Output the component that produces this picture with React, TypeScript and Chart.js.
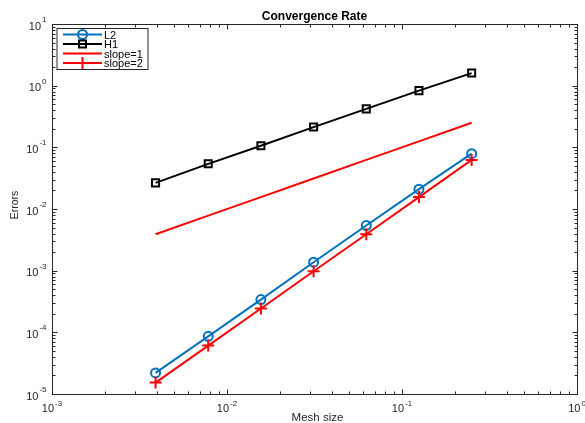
import React, { useEffect, useRef } from 'react';
import { Chart, registerables } from 'chart.js';

Chart.register(...registerables);

// ---- data ----
const meshSize = [0.00390625, 0.0078125, 0.015625, 0.03125, 0.0625, 0.125, 0.25];
const errL2 = [2.2e-5, 8.6e-5, 3.4e-4, 1.37e-3, 5.4e-3, 2.1e-2, 7.9e-2];
const errH1 = [0.0265, 0.054, 0.106, 0.213, 0.42, 0.83, 1.6];
const slope1 = [0.0039, 0.0078, 0.0156, 0.0313, 0.0625, 0.125, 0.25];
const slope2 = [1.53e-5, 6.1e-5, 2.44e-4, 9.77e-4, 3.9e-3, 1.56e-2, 6.25e-2];
const seriesNames = ['L2', 'H1', 'slope=1', 'slope=2'];

const xTickValues = [0.001, 0.01, 0.1, 1];
const xTickExp = ['-3', '-2', '-1', '0'];
const yTickValues = [1e-5, 1e-4, 1e-3, 1e-2, 1e-1, 1, 10];
const yTickExp = ['-5', '-4', '-3', '-2', '-1', '0', '1'];

const titleText = 'Convergence Rate';
const xLabel = 'Mesh size';
const yLabel = 'Errors';

const AXIS = '#262626';
const BLUE = '#0072BD';
const RED = '#FF0000';
const BLACK = '#000000';
const FONT = '"Liberation Sans", Arial, Helvetica, sans-serif';

const legendItems = [
  { name: seriesNames[0], color: BLUE, marker: 'circle' },
  { name: seriesNames[1], color: BLACK, marker: 'rect' },
  { name: seriesNames[2], color: RED, marker: 'none' },
  { name: seriesNames[3], color: RED, marker: 'cross' },
];

function drawMarker(ctx: CanvasRenderingContext2D, kind: string, x: number, y: number, color: string) {
  ctx.save();
  ctx.strokeStyle = color;
  ctx.lineWidth = 2;
  ctx.beginPath();
  if (kind === 'circle') {
    ctx.arc(x, y, 4.5, 0, Math.PI * 2);
  } else if (kind === 'rect') {
    ctx.rect(x - 3.5, y - 3.5, 7, 7);
  } else if (kind === 'cross') {
    ctx.moveTo(x - 6, y);
    ctx.lineTo(x + 6, y);
    ctx.moveTo(x, y - 6);
    ctx.lineTo(x, y + 6);
  }
  ctx.stroke();
  ctx.restore();
}

const matlabPlugin = {
  id: 'matlabAxes',
  afterDraw(chart: any) {
    const { ctx, chartArea: a, scales } = chart;
    const xs = scales.x;
    const ys = scales.y;
    const L = Math.floor(a.left) + 0.5;
    const R = Math.floor(a.right) + 0.5;
    const T = Math.floor(a.top) + 0.5;
    const B = Math.floor(a.bottom) + 0.5;
    ctx.save();
    ctx.strokeStyle = AXIS;
    ctx.lineWidth = 1;
    ctx.strokeRect(L, T, R - L, B - T);

    // ticks
    const major = 5;
    const minor = 3;
    ctx.beginPath();
    xTickValues.forEach((v, i) => {
      const px = Math.round(xs.getPixelForValue(v)) + 0.5;
      ctx.moveTo(px, B); ctx.lineTo(px, B - major);
      ctx.moveTo(px, T); ctx.lineTo(px, T + major);
      if (i < xTickValues.length - 1) {
        for (let m = 2; m <= 9; m++) {
          const p = Math.round(xs.getPixelForValue(v * m)) + 0.5;
          ctx.moveTo(p, B); ctx.lineTo(p, B - minor);
          ctx.moveTo(p, T); ctx.lineTo(p, T + minor);
        }
      }
    });
    yTickValues.forEach((v, i) => {
      const py = Math.round(ys.getPixelForValue(v)) + 0.5;
      ctx.moveTo(L, py); ctx.lineTo(L + major, py);
      ctx.moveTo(R, py); ctx.lineTo(R - major, py);
      if (i < yTickValues.length - 1) {
        for (let m = 2; m <= 9; m++) {
          const p = Math.round(ys.getPixelForValue(v * m)) + 0.5;
          ctx.moveTo(L, p); ctx.lineTo(L + minor, p);
          ctx.moveTo(R, p); ctx.lineTo(R - minor, p);
        }
      }
    });
    ctx.stroke();

    // tick labels
    ctx.fillStyle = AXIS;
    ctx.textBaseline = 'alphabetic';
    const baseFont = `11px ${FONT}`;
    const expFont = `8px ${FONT}`;
    xTickValues.forEach((v, i) => {
      const px = xs.getPixelForValue(v);
      ctx.font = baseFont;
      const wb = ctx.measureText('10').width;
      ctx.font = expFont;
      const we = ctx.measureText(xTickExp[i]).width;
      const start = px - (wb + we + 1) / 2;
      ctx.font = baseFont;
      ctx.textAlign = 'left';
      ctx.fillText('10', start, B + 17);
      ctx.font = expFont;
      ctx.fillText(xTickExp[i], start + wb + 1, B + 11);
    });
    yTickValues.forEach((v, i) => {
      const py = ys.getPixelForValue(v);
      ctx.font = expFont;
      const we = ctx.measureText(yTickExp[i]).width;
      const right = L - 6;
      ctx.textAlign = 'left';
      ctx.fillText(yTickExp[i], right - we, py - 2);
      ctx.font = baseFont;
      const wb = ctx.measureText('10').width;
      ctx.fillText('10', right - we - 1 - wb, py + 5.5);
    });

    // title
    const cx = (a.left + a.right) / 2;
    ctx.fillStyle = '#000000';
    ctx.textAlign = 'center';
    ctx.font = `bold 12px ${FONT}`;
    ctx.fillText(titleText, cx, 20);

    // axis labels
    ctx.fillStyle = AXIS;
    ctx.font = `11.5px ${FONT}`;
    ctx.fillText(xLabel, cx + 3, 421);
    ctx.save();
    ctx.translate(18, 205);
    ctx.rotate(-Math.PI / 2);
    ctx.font = `10.5px ${FONT}`;
    ctx.textAlign = 'center';
    ctx.fillText(yLabel, 0, 0);
    ctx.restore();

    // legend
    const lx = L + 4.5;
    const ly = T + 4;
    const lw = 91;
    const lh = 41;
    ctx.fillStyle = '#FFFFFF';
    ctx.fillRect(lx, ly, lw, lh);
    ctx.strokeStyle = AXIS;
    ctx.lineWidth = 1;
    ctx.strokeRect(lx, ly, lw, lh);
    legendItems.forEach((it, i) => {
      const y = ly + 6 + i * 9.5;
      ctx.strokeStyle = it.color;
      ctx.lineWidth = 2;
      ctx.beginPath();
      ctx.moveTo(lx + 6, y);
      ctx.lineTo(lx + 45, y);
      ctx.stroke();
      drawMarker(ctx, it.marker, lx + 25.5, y, it.color);
      ctx.fillStyle = '#000000';
      ctx.font = `11px ${FONT}`;
      ctx.textAlign = 'left';
      ctx.fillText(it.name, lx + 47, y + 4);
    });
    ctx.restore();
  },
};

function pts(ys: number[]) {
  return meshSize.map((x, i) => ({ x, y: ys[i] }));
}

export default function App() {
  const ref = useRef<HTMLCanvasElement | null>(null);
  useEffect(() => {
    if (!ref.current) return;
    const chart = new Chart(ref.current, {
      type: 'line',
      data: {
        datasets: [
          {
            label: seriesNames[0], data: pts(errL2), borderColor: BLUE, borderWidth: 2,
            pointStyle: 'circle', pointRadius: 4.5, pointBorderWidth: 2, pointBorderColor: BLUE,
            pointBackgroundColor: 'rgba(0,0,0,0)', order: 4,
          },
          {
            label: seriesNames[1], data: pts(errH1), borderColor: BLACK, borderWidth: 2,
            pointStyle: 'rect', pointRadius: 5, pointBorderWidth: 2, pointBorderColor: BLACK,
            pointBackgroundColor: 'rgba(0,0,0,0)', order: 3,
          },
          {
            label: seriesNames[2], data: pts(slope1), borderColor: RED, borderWidth: 2,
            pointRadius: 0, order: 2,
          },
          {
            label: seriesNames[3], data: pts(slope2), borderColor: RED, borderWidth: 2,
            pointStyle: 'cross', pointRadius: 6, pointBorderWidth: 2, pointBorderColor: RED,
            pointBackgroundColor: RED, order: 1,
          },
        ],
      },
      options: {
        responsive: false,
        animation: false,
        events: [],
        layout: { padding: { left: 52, top: 24, right: 5, bottom: 29 } },
        elements: { line: { tension: 0 } },
        scales: {
          x: { type: 'logarithmic', min: 0.001, max: 1, display: false },
          y: { type: 'logarithmic', min: 1e-5, max: 10, display: false },
        },
        plugins: { legend: { display: false }, title: { display: false }, tooltip: { enabled: false } },
      },
      plugins: [matlabPlugin],
    } as any);
    return () => chart.destroy();
  }, []);
  return (
    <div style={{ position: 'absolute', left: 0, top: 0, width: 585, height: 423, background: '#fff' }}>
      <canvas ref={ref} width={585} height={423} style={{ width: 585, height: 423, display: 'block' }} />
    </div>
  );
}
